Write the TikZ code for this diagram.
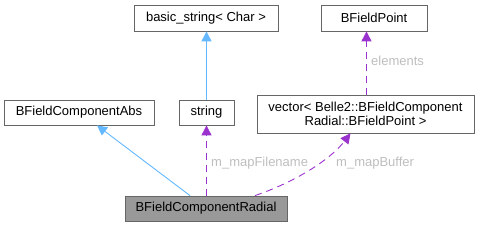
\documentclass[tikz,border=0pt]{standalone}
\usepackage{fontspec}
\setmainfont{Liberation Sans}
\usetikzlibrary{arrows.meta}
\definecolor{edgeblue}{HTML}{63B8FF}
\definecolor{edgepurple}{HTML}{9A32CD}
\definecolor{boxgray}{HTML}{666666}
\definecolor{labelgray}{HTML}{BEBEBE}
\definecolor{focusfill}{HTML}{999999}
\begin{document}
\begin{tikzpicture}[x=1pt,y=-1pt,
  box/.style={draw=boxgray, fill=white, line width=0.8pt, inner sep=0pt,
    font=\fontsize{13}{14}\selectfont, align=center},
  inh/.style={draw=edgeblue, line width=0.9pt,
    -{Triangle[length=10pt,width=10pt,fill=edgeblue]}},
  usage/.style={draw=edgepurple, line width=0.9pt, dash pattern=on 7pt off 5pt,
    -{Triangle[length=10pt,width=10pt,fill=edgepurple]}},
  elabel/.style={text=labelgray, font=\fontsize{13}{14}\selectfont, inner sep=0pt, anchor=west}]
\useasboundingbox (0,0) rectangle (481,227);
\node[box, minimum width=144pt, minimum height=26pt] (bs) at (206,18) {basic\_string< Char >};
\node[box, minimum width=106pt, minimum height=26pt] (bfp) at (374,18) {BFieldPoint};
\node[box, minimum width=150pt, minimum height=25pt] (abs) at (79,112.5) {BFieldComponentAbs};
\node[box, minimum width=55pt, minimum height=25pt] (str) at (206.5,112.5) {string};
\node[box, minimum width=217pt, minimum height=38pt] (vec) at (365.5,114) {vector< Belle2::BFieldComponent\\Radial::BFieldPoint >};
\node[box, fill=focusfill, minimum width=162pt, minimum height=25pt] (rad) at (206,208.5) {BFieldComponentRadial};

\draw[inh] (str) -- (str |- bs.south);
\draw[inh] ([xshift=-16pt]rad.north) -- ([xshift=18pt]abs.south);
\draw[usage] (rad.north -| str) -- (str.south);
\draw[usage] ([xshift=49pt]rad.north) .. controls (295,182) and (330,160) .. ([xshift=-15pt]vec.south);
\draw[usage] ([xshift=1pt]vec.north) -- ([xshift=1pt]vec.north |- bfp.south);

\node[elabel] (l1) at (211,163) {m\_mapFilename};
\node[elabel] (l2) at (336,163) {m\_mapBuffer};
\node[elabel] (l3) at (371,61) {elements};
\end{tikzpicture}
\end{document}
